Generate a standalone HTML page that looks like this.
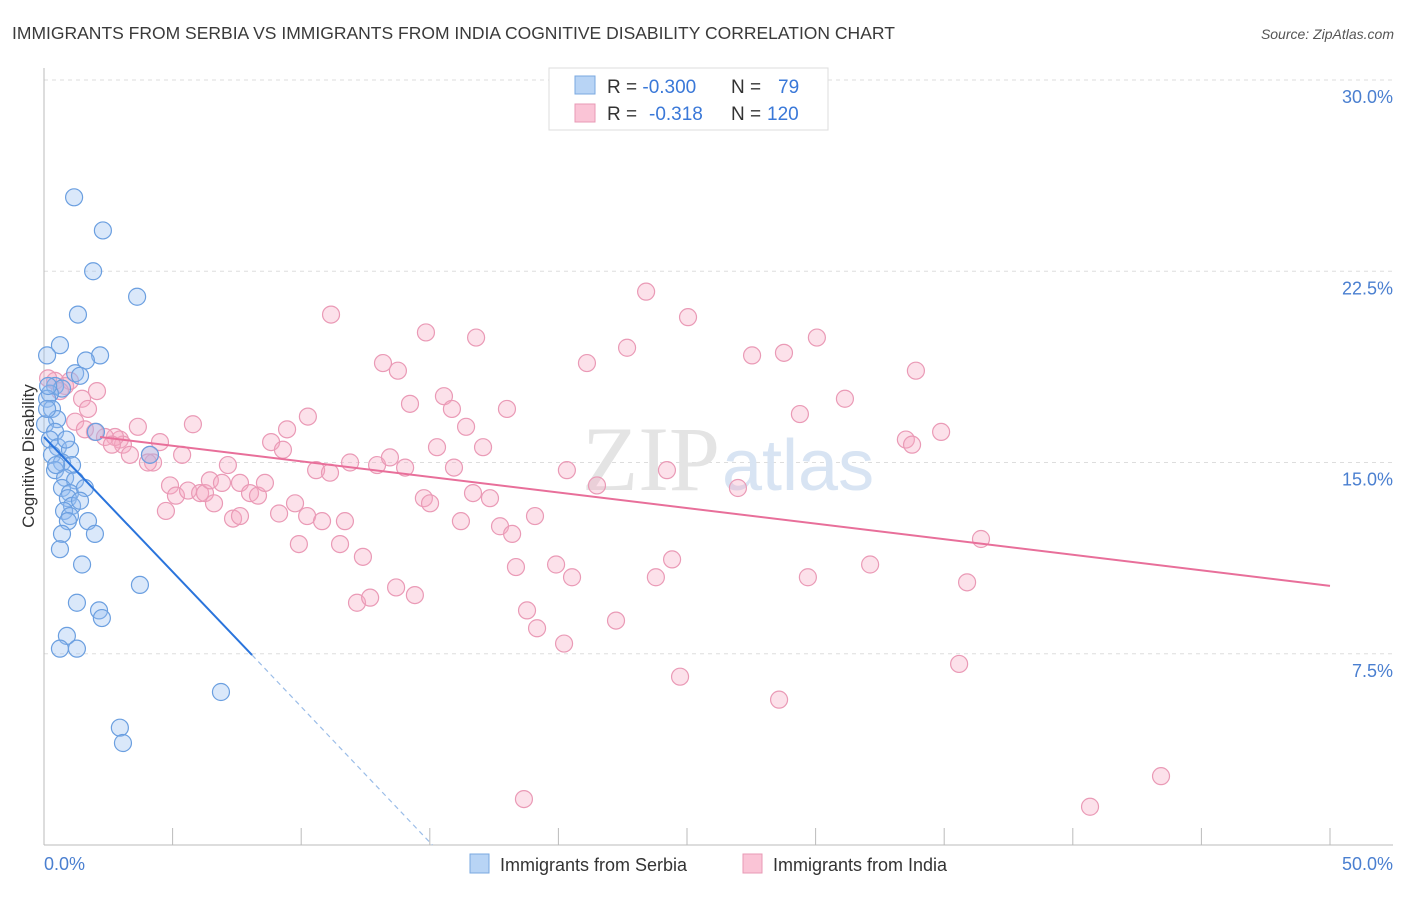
<!DOCTYPE html>
<html><head><meta charset="utf-8"><style>
body{margin:0;background:#fff;font-family:"Liberation Sans",sans-serif;}
</style></head><body>
<svg width="1406" height="892" xmlns="http://www.w3.org/2000/svg" font-family="Liberation Sans, sans-serif">
<text x="12" y="39" font-size="17.5" fill="#3a3a3a">IMMIGRANTS FROM SERBIA VS IMMIGRANTS FROM INDIA COGNITIVE DISABILITY CORRELATION CHART</text>
<text x="1394" y="39" font-size="14" fill="#555" font-style="italic" text-anchor="end">Source: ZipAtlas.com</text>
<g id="grid"></g>
<text x="720" y="490" font-size="92" fill="#e4e4e4" text-anchor="end" font-family="Liberation Serif, serif">ZIP</text>
<text x="722" y="490" font-size="72" fill="#d8e4f3">atlas</text>
<g id="pts"></g>
<g id="lines"></g>
<text transform="translate(34,456) rotate(-90)" font-size="17" fill="#333" text-anchor="middle">Cognitive Disability</text>
<g>
<rect x="549" y="68" width="279" height="62" fill="#fff" stroke="#ddd"/>
<rect x="575" y="76" width="20" height="18" fill="#b8d4f5" stroke="#7aa8e0"/>
<rect x="575" y="104" width="20" height="18" fill="#fac4d6" stroke="#e89ab5"/>
<text x="607" y="93" font-size="19" fill="#333">R = <tspan fill="#3a78d8">-0.300</tspan><tspan x="731">N =</tspan><tspan x="778" fill="#3a78d8">79</tspan></text>
<text x="607" y="120" font-size="19" fill="#333">R = <tspan x="649" fill="#3a78d8">-0.318</tspan><tspan x="731">N =</tspan><tspan x="767" fill="#3a78d8">120</tspan></text>
</g>
<g>
<rect x="470" y="854" width="19" height="19" fill="#b8d4f5" stroke="#7aa8e0"/>
<text x="500" y="871" font-size="18" fill="#333">Immigrants from Serbia</text>
<rect x="743" y="854" width="19" height="19" fill="#fac4d6" stroke="#e89ab5"/>
<text x="773" y="871" font-size="18" fill="#333">Immigrants from India</text>
</g>
</svg>
<script>
const yTicks=[7.5,15,22.5,30];
const yTickLabels=["7.5%","15.0%","22.5%","30.0%"];
const xTickCount=10;
const xLabels=["0.0%","50.0%"];
const serbiaX=[1.17,2.29,1.91,3.62,1.32,0.62,2.18,1.63,0.12,1.21,1.40,0.43,0.70,0.23,0.12,0.31,0.51,0.04,0.43,0.23,0.54,1.01,0.31,0.70,1.09,0.43,0.82,1.21,0.70,1.01,0.93,1.59,1.09,0.78,1.01,0.93,1.71,1.98,0.70,0.62,1.48,3.73,1.28,2.14,2.25,0.89,0.62,1.28,6.88,2.95,3.07,4.12,2.02,0.47,1.40,0.12,0.16,0.86];
const serbiaY=[25.4,24.1,22.5,21.5,20.8,19.6,19.2,19.0,19.2,18.5,18.4,18.0,17.9,17.7,17.5,17.1,16.7,16.5,16.2,15.9,15.6,15.5,15.3,15.0,14.9,14.7,14.4,14.3,14.0,13.8,13.6,14.0,13.3,13.1,12.9,12.7,12.7,12.2,12.2,11.6,11.0,10.2,9.5,9.2,8.9,8.2,7.7,7.7,6.0,4.6,4.0,15.3,16.2,14.9,13.5,17.1,18.0,15.9];
const indiaX=[0.43,0.82,1.01,0.62,2.06,1.48,1.71,1.21,1.98,2.95,3.07,3.65,2.76,3.34,4.12,4.24,4.51,5.37,5.79,4.90,5.13,4.74,5.60,6.07,6.26,6.61,6.45,6.92,7.35,7.62,7.15,7.62,8.01,8.32,8.59,8.83,9.29,9.45,9.14,9.76,9.91,10.23,10.26,10.58,10.81,11.12,11.16,11.51,11.70,11.90,12.17,12.40,12.68,12.95,13.18,13.45,13.76,14.04,13.69,14.23,14.42,14.77,15.01,14.85,15.28,15.55,15.86,15.94,16.21,16.41,16.68,16.80,17.07,17.34,17.73,18.00,18.20,18.35,18.78,19.17,19.09,19.91,20.22,20.53,20.33,21.11,21.50,22.24,22.67,23.41,23.79,24.22,24.42,24.73,25.04,26.98,27.53,28.58,28.77,29.39,29.70,30.05,31.14,32.12,33.51,33.75,33.90,34.88,35.58,35.89,36.43,43.43,40.67,18.66,0.16,2.37,2.64,1.59,4.04];
const indiaY=[18.2,18.0,18.2,17.8,17.8,17.5,17.1,16.6,16.2,15.9,15.7,16.4,16.0,15.3,15.3,15.0,15.8,15.3,16.5,14.1,13.7,13.1,13.9,13.8,13.8,13.4,14.3,14.2,12.8,12.9,14.9,14.2,13.8,13.7,14.2,15.8,15.5,16.3,13.0,13.4,11.8,12.9,16.8,14.7,12.7,14.6,20.8,11.8,12.7,15.0,9.5,11.3,9.7,14.9,18.9,15.2,18.6,14.8,10.1,17.3,9.8,13.6,13.4,20.1,15.6,17.6,17.1,14.8,12.7,16.4,13.8,19.9,15.6,13.6,12.5,17.1,12.2,10.9,9.2,8.5,12.9,11.0,7.9,10.5,14.7,18.9,14.1,8.8,19.5,21.7,10.5,14.7,11.2,6.6,20.7,14.0,19.2,5.7,19.3,16.9,10.5,19.9,17.5,11.0,15.9,15.7,18.6,16.2,7.1,10.3,12.0,2.7,1.5,1.8,18.3,16.0,15.7,16.3,15.0];
const serbiaTrend={x0:0,y0:16.0,x1:8.09,y1:7.45,x2:15.1,y2:0};
const indiaTrend={x0:2.18,y0:16.0,x1:50,y1:10.16};
const NS="http://www.w3.org/2000/svg";
const L=44,R=1330,T=80,B=845;
const sx=v=>L+(v/50)*(R-L);
const sy=v=>B-(v/30)*(B-T);
function mk(tag,attrs,parent){const e=document.createElementNS(NS,tag);for(const k in attrs)e.setAttribute(k,attrs[k]);parent.appendChild(e);return e;}
const grid=document.getElementById('grid');
yTicks.forEach((t,i)=>{
 const g=mk('line',{x1:L,x2:1393,y1:sy(t),y2:sy(t),stroke:'#ddd','stroke-dasharray':'4,4'},grid);
 
 
 const tx=mk('text',{x:1393,y:sy(t)+23,'font-size':18,fill:'#4a7fd0','text-anchor':'end'},grid);
 tx.textContent=yTickLabels[i];
 
 
});
const ax=mk('line',{x1:L,x2:L,y1:68,y2:B,stroke:'#bbb'},grid);


const bx=mk('line',{x1:L,x2:1393,y1:B,y2:B,stroke:'#bbb'},grid);


for(let i=1;i<=xTickCount;i++){
 const v=i*50/xTickCount;
 const tk=mk('line',{x1:sx(v),x2:sx(v),y1:828,y2:B,stroke:'#bbb'},grid);
 
 
}
const xl0=mk('text',{x:L,y:870,'font-size':18,fill:'#4a7fd0'},grid);xl0.textContent=xLabels[0];


const xl1=mk('text',{x:1393,y:870,'font-size':18,fill:'#4a7fd0','text-anchor':'end'},grid);xl1.textContent=xLabels[1];


const pts=document.getElementById('pts');
indiaX.forEach((x,i)=>{
 const c=mk('circle',{cx:sx(x),cy:sy(indiaY[i]),r:8.5,fill:'rgba(245,170,196,0.35)',stroke:'#ea9ab6','stroke-width':1.2},pts);
 
 
});
serbiaX.forEach((x,i)=>{
 const c=mk('circle',{cx:sx(x),cy:sy(serbiaY[i]),r:8.5,fill:'rgba(150,190,240,0.35)',stroke:'#6b9fe0','stroke-width':1.2},pts);
 
 
});
const ln=document.getElementById('lines');
const s1=mk('line',{x1:sx(serbiaTrend.x0),y1:sy(serbiaTrend.y0),x2:sx(serbiaTrend.x1),y2:sy(serbiaTrend.y1),stroke:'#2a74dc','stroke-width':2},ln);


const s2=mk('line',{x1:sx(serbiaTrend.x1),y1:sy(serbiaTrend.y1),x2:sx(serbiaTrend.x2),y2:sy(serbiaTrend.y2),stroke:'#9bbde8','stroke-width':1.2,'stroke-dasharray':'5,4'},ln);


const i1=mk('line',{x1:sx(indiaTrend.x0),y1:sy(indiaTrend.y0),x2:sx(indiaTrend.x1),y2:sy(indiaTrend.y1),stroke:'#e86f9a','stroke-width':2},ln);


</script>
</body></html>
